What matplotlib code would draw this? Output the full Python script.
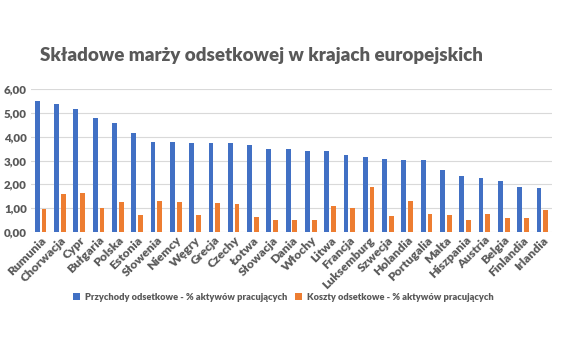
import matplotlib
matplotlib.use("Agg")
import matplotlib.pyplot as plt
import numpy as np

plt.rcParams['font.family'] = ['Lato', 'DejaVu Sans']

countries = ["Rumunia", "Chorwacja", "Cypr", "Bułgaria", "Polska", "Estonia", "Słowenia",
             "Niemcy", "Węgry", "Grecja", "Czechy", "Łotwa", "Słowacja", "Dania", "Włochy",
             "Litwa", "Francja", "Luksemburg", "Szwecja", "Holandia", "Portugalia", "Malta",
             "Hiszpania", "Austria", "Belgia", "Finlandia", "Irlandia"]
przychody = [5.49, 5.36, 5.18, 4.78, 4.57, 4.15, 3.78, 3.76, 3.73, 3.73, 3.72, 3.64, 3.50,
             3.50, 3.40, 3.40, 3.25, 3.14, 3.08, 3.04, 3.04, 2.62, 2.34, 2.25, 2.15, 1.90, 1.86]
koszty = [0.94, 1.58, 1.65, 0.99, 1.24, 0.70, 1.31, 1.24, 0.70, 1.20, 1.16, 0.63, 0.48,
          0.48, 0.48, 1.10, 1.01, 1.87, 0.66, 1.30, 0.73, 0.69, 0.51, 0.73, 0.56, 0.56, 0.92]
yticks = [0, 1, 2, 3, 4, 5, 6]
ytick_labels = ["0,00", "1,00", "2,00", "3,00", "4,00", "5,00", "6,00"]
series_names = ["Przychody odsetkowe - % aktywów pracujących",
                "Koszty odsetkowe - % aktywów pracujących"]
title = "Składowe marży odsetkowej w krajach europejskich"

W, H = 564, 353
fig = plt.figure(figsize=(W / 100, H / 100), dpi=100)
ax = fig.add_axes([31 / W, 1 - 231.7 / H, (552 - 31) / W, (231.7 - 89.3) / H])

x = np.arange(len(countries))
bw = 0.25
ax.bar(x - 0.175, przychody, bw, color="#4170C4", label=series_names[0], zorder=3)
ax.bar(x + 0.175, koszty, bw, color="#ED7D31", label=series_names[1], zorder=3)

ax.set_xlim(-0.5, len(countries) - 0.5)
ax.set_ylim(0, 6)
ax.set_yticks(yticks)
ax.set_yticklabels(ytick_labels, fontsize=8.3, fontweight="heavy", color="#595959")
ax.set_xticks(x)
ax.set_xticklabels(countries, rotation=45, ha="right", rotation_mode="anchor",
                   fontsize=8.8, fontweight="heavy", color="#595959")
ax.tick_params(axis="y", length=0, pad=3)
ax.tick_params(axis="x", length=0, pad=2)
ax.grid(axis="y", color="#D9D9D9", linewidth=0.8, zorder=0)
for s in ax.spines.values():
    s.set_visible(False)

fig.text(261 / W, 1 - 55 / H, title, ha="center", va="center", fontsize=13.5,
         fontweight="heavy", color="#595959")

handles, labels = ax.get_legend_handles_labels()
fig.legend(handles, labels, loc="center", bbox_to_anchor=(283 / W, 1 - 297 / H), ncol=2,
           frameon=False, handlelength=0.8, handleheight=0.8,
           handletextpad=0.5, columnspacing=0.8,
           prop={"weight": "heavy", "size": 6.7})
for t in fig.legends[0].get_texts():
    t.set_color("#595959")

fig.savefig("out.png", dpi=100, facecolor="white")
